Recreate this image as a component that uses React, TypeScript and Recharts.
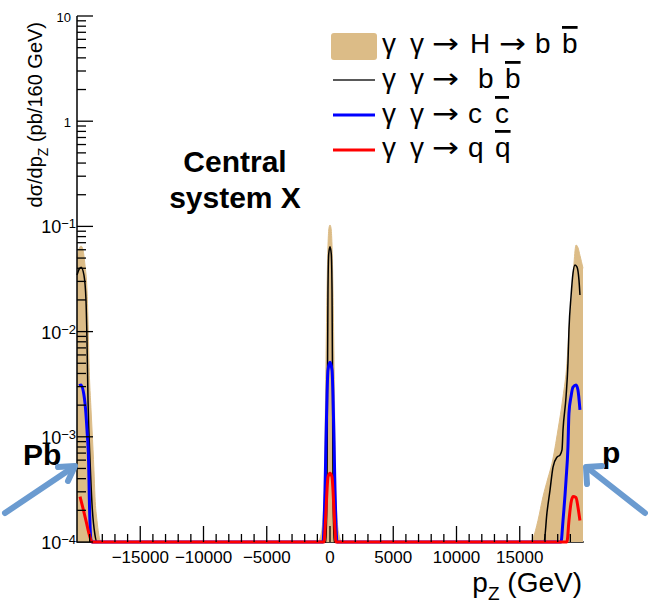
import React from 'react';
import { ComposedChart, Area, Line, XAxis, YAxis } from 'recharts';

// p_Z (GeV) sample points and dsigma/dp_Z (pb/160 GeV).
// Bins below the 1e-4 frame are drawn on the floor, as ROOT does.
const hbbPz = [
  -20000, -19840, -19680, -19530, -19370, -19210, -19130, -19050, -18890, -18810, -18660, -18580, -18420, -18180, -18100,
  -950, -710, -475, -395, -316, -237, -158, -79, 0, 79, 158, 237, 316, 395, 475, 710, 950,
  15810, 16050, 16440, 16840, 17230, 17550, 18020, 18420, 18730, 18890, 19130, 19290, 19450, 19600, 19760, 20000,
];
const hbbVal = [
  0.05, 0.061, 0.065, 0.06, 0.043, 0.0248, 0.0129, 0.005, 0.0018, 0.00116, 0.00048, 0.00027, 0.00016, 0.000104, 0.0001,
  0.0001, 0.000117, 0.00025, 0.00093, 0.0054, 0.0248, 0.0665, 0.0966, 0.103, 0.0966, 0.0665, 0.0248, 0.0054, 0.00093, 0.00025, 0.000117, 0.0001,
  0.0001, 0.000109, 0.00016, 0.00027, 0.000406, 0.00056, 0.00116, 0.0024, 0.005, 0.0104, 0.0213, 0.0449, 0.0665, 0.063, 0.053, 0.04,
];

const bbPz = [
  -20000, -19840, -19680, -19450, -19290, -19210, -19130, -18970, -18810, -18580, -18420,
  -320, -240, -200, -160, -100, 0, 100, 160, 200, 240, 320,
  16920, 17150, 17390, 17630, 17940, 18180, 18340, 18420, 18660, 18810, 18890, 19050, 19210, 19370, 19530, 19680, 19760,
];
const bbVal = [
  0.0345, 0.039, 0.041, 0.0345, 0.02, 0.0083, 0.00224, 0.0006, 0.000225, 0.000117, 0.0001,
  0.0001, 0.0003, 0.003, 0.025, 0.055, 0.064, 0.055, 0.025, 0.003, 0.0003, 0.0001,
  0.0001, 0.000189, 0.00031, 0.000516, 0.00064, 0.00067, 0.00075, 0.00116, 0.0024, 0.005, 0.0104, 0.0213, 0.036, 0.043, 0.041, 0.031, 0.0223,
];

const ccPz = [
  -19840, -19680, -19370, -19210, -19080, -19030, -18890, -18800,
  -600, -553, -474, -395, -316, -237, -158, 0, 158, 237, 316, 395, 474, 553, 600,
  18260, 18420, 18660, 18810, 18890, 19050, 19210, 19450, 19600, 19760,
];
const ccVal = [
  0.00306, 0.0031, 0.0021, 0.00116, 0.00056, 0.00027, 0.000104, 0.0001,
  0.0001, 0.0001, 0.000145, 0.00031, 0.00093, 0.0025, 0.0043, 0.0051, 0.0043, 0.0025, 0.00093, 0.00031, 0.000145, 0.0001, 0.0001,
  0.0001, 0.00016, 0.00039, 0.0008, 0.00168, 0.0024, 0.00297, 0.0031, 0.00279, 0.0018,
];

const qqPz = [
  -19760, -19530, -19290, -19050, -18810, -18200,
  -474, -395, -316, -237, -158, 0, 158, 237, 316, 395, 474,
  18340, 18730, 18890, 19050, 19210, 19450, 19600, 19760,
];
const qqVal = [
  0.00027, 0.00021, 0.00016, 0.00012, 0.0001, 0.0001,
  0.0001, 0.00013, 0.0002, 0.00031, 0.000415, 0.00045, 0.000415, 0.00031, 0.0002, 0.00013, 0.0001,
  0.0001, 0.0001, 0.00016, 0.000235, 0.00027, 0.000265, 0.000215, 0.00016,
];

const xMajorTicks = [-20000, -15000, -10000, -5000, 0, 5000, 10000, 15000, 20000];
const xLabelTicks = [-15000, -10000, -5000, 0, 5000, 10000, 15000];
const yDecades = [1e-4, 1e-3, 1e-2, 1e-1, 1, 10];
const yDecadeBase = ['10', '10', '10', '10', '1', '10'];
const yDecadeExp = ['−4', '−3', '−2', '−1', '', ''];

const TAN = '#dcbc87';
const ARROW = '#6b9bd0';
const FONT = '"Liberation Sans", Arial, Helvetica, sans-serif';

const toRows = (pz: number[], val: number[]) => pz.map((p, i) => ({ pz: p, v: val[i] }));
const hbbData = toRows(hbbPz, hbbVal);
const bbData = toRows(bbPz, bbVal);
const ccData = toRows(ccPz, ccVal);
const qqData = toRows(qqPz, qqVal);

const xTicks: number[] = [];
for (let v = -20000; v <= 20000; v += 1000) xTicks.push(v);
const yTicks: number[] = [];
yDecades.forEach((d, i) => {
  yTicks.push(d);
  if (i < yDecades.length - 1) for (let k = 2; k <= 9; k++) yTicks.push(k * d);
});

const fmtX = (v: number) => (v < 0 ? '−' + Math.abs(v) : String(v));

const XTick = (props: any) => {
  const { x, y, payload } = props;
  const v = payload.value;
  if (v <= -20000 || v >= 20000) return null;
  const major = xMajorTicks.includes(v);
  return (
    <g>
      <line x1={x} y1={y} x2={x} y2={y - (major ? 16 : 8)} stroke="#000" strokeWidth={1.3} />
      {xLabelTicks.includes(v) && (
        <text x={x} y={y + 21} textAnchor="middle" fontSize={17} fontFamily={FONT} fill="#000">
          {fmtX(v)}
        </text>
      )}
    </g>
  );
};

const YTick = (props: any) => {
  const { x, y, payload } = props;
  const v = payload.value;
  const idx = yDecades.findIndex(d => Math.abs(d - v) / d < 1e-6);
  const major = idx >= 0;
  return (
    <g>
      <line x1={x} y1={y} x2={x + (major ? 16 : 9)} y2={y} stroke="#000" strokeWidth={1.3} />
      {major && yDecadeExp[idx] === '' && (
        <text x={x - 6} y={y + 6} textAnchor="end" fontSize={13} fontFamily={FONT} fill="#000">
          {yDecadeBase[idx]}
        </text>
      )}
      {major && yDecadeExp[idx] !== '' && (
        <text x={x - 1} y={y + 7} textAnchor="end" fontSize={18} fontFamily={FONT} fill="#000">
          {yDecadeBase[idx]}
          <tspan dy={-5} fontSize={13}>{yDecadeExp[idx]}</tspan>
        </text>
      )}
    </g>
  );
};

const legendRows = [
  { head: 'H', tail: 'b' },
  { head: '', tail: 'b' },
  { head: '', tail: 'c' },
  { head: '', tail: 'q' },
];

const Arrow = ({ x, y }: { x: number; y: number }) => (
  <text
    transform={`translate(${x},${y}) scale(1.15,1)`}
    fontFamily='"DejaVu Sans", sans-serif'
    fontSize={28}
    fill="#000"
  >
    →
  </text>
);

const Overlay = () => {
  const textStyle = { fontFamily: FONT, fontSize: 28, fill: '#000' } as const;
  const baselines = [53, 88, 123, 157];
  return (
    <svg width={648} height={605} style={{ position: 'absolute', left: 0, top: 0, pointerEvents: 'none' }}>
      {/* legend */}
      <rect x={331} y={33} width={46} height={27} rx={3} fill={TAN} />
      <line x1={333} y1={80} x2={375} y2={80} stroke="#222" strokeWidth={1.5} />
      <line x1={333} y1={115} x2={375} y2={115} stroke="#0000ff" strokeWidth={3} />
      <line x1={333} y1={150} x2={375} y2={150} stroke="#ff0000" strokeWidth={3} />
      {legendRows.map((r, i) => {
        const b = baselines[i];
        const tailX = i === 0 ? 535 : i === 1 ? 478 : 468;
        return (
          <g key={i}>
            <text x={382} y={b} {...textStyle}>γ</text>
            <text x={410} y={b} {...textStyle}>γ</text>
            <Arrow x={432} y={b} />
            {r.head && (
              <>
                <text x={470} y={b} {...textStyle}>{r.head}</text>
                <Arrow x={499} y={b} />
              </>
            )}
            <text x={tailX} y={b} {...textStyle}>{r.tail}</text>
            <text
              x={tailX + 27}
              y={b}
              {...textStyle}
              style={{ textDecoration: 'overline', textDecorationThickness: '3px' } as any}
            >
              {r.tail}
            </text>
          </g>
        );
      })}

      {/* annotations */}
      <text x={235} y={172} textAnchor="middle" fontFamily={FONT} fontWeight="bold" fontSize={30} fill="#000">Central</text>
      <text x={235} y={208} textAnchor="middle" fontFamily={FONT} fontWeight="bold" fontSize={30} fill="#000">system X</text>
      <text x={23} y={465} fontFamily={FONT} fontWeight="bold" fontSize={30} fill="#000">Pb</text>
      <text x={602} y={463} fontFamily={FONT} fontWeight="bold" fontSize={30} fill="#000">p</text>
      <g stroke={ARROW} strokeWidth={6} strokeLinecap="round" strokeLinejoin="round" fill="none">
        <line x1={5} y1={513} x2={72} y2={468} />
        <polyline points="58,467 75,466 68,481" />
        <line x1={645} y1={513} x2={589} y2={469} />
        <polyline points="587,484 586,467 602,466" />
      </g>

      {/* axis titles */}
      <text transform="translate(42,22) rotate(-90)" textAnchor="end" fontFamily={FONT} fontSize={20} fill="#000">
        dσ/dp<tspan dy={6} fontSize={14}>Z</tspan><tspan dy={-6}> (pb/160 GeV)</tspan>
      </text>
      <text x={582} y={592} textAnchor="end" fontFamily={FONT} fontSize={28} fill="#000">
        p<tspan dy={8} fontSize={19}>Z</tspan><tspan dy={-8}> (GeV)</tspan>
      </text>
    </svg>
  );
};

// bottom frame edge sits under the curves, so the floor lines cover it as in ROOT
const Underlay = () => (
  <svg width={648} height={605} style={{ position: 'absolute', left: 0, top: 0 }}>
    <line x1={76.25} y1={542} x2={583.75} y2={542} stroke="#000" strokeWidth={1.5} />
  </svg>
);

export default function App() {
  return (
    <div style={{ position: 'absolute', left: 0, top: 0, width: 648, height: 605, background: '#fff' }}>
      <Underlay />
      <div style={{ position: 'absolute', left: 0, top: 0 }}>
        <ComposedChart width={648} height={605} margin={{ top: 16, right: 65, bottom: 13, left: 7 }}>
          <XAxis
            dataKey="pz"
            type="number"
            domain={[-20000, 20000]}
            ticks={xTicks}
            interval={0}
            tick={<XTick />}
            tickLine={false}
            tickSize={0}
            tickMargin={0}
            height={50}
            axisLine={false}
          />
          <XAxis
            xAxisId="top"
            orientation="top"
            type="number"
            domain={[-20000, 20000]}
            height={0}
            tick={false}
            tickLine={false}
            axisLine={{ stroke: '#000', strokeWidth: 1.5 }}
          />
          <YAxis
            type="number"
            scale="log"
            domain={[1e-4, 10]}
            ticks={yTicks}
            interval={0}
            tick={<YTick />}
            tickLine={false}
            tickSize={0}
            tickMargin={0}
            width={70}
            axisLine={{ stroke: '#000', strokeWidth: 1.5 }}
          />
          <YAxis
            yAxisId="right"
            orientation="right"
            type="number"
            scale="log"
            domain={[1e-4, 10]}
            width={0}
            tick={false}
            tickLine={false}
            axisLine={{ stroke: '#000', strokeWidth: 1.5 }}
          />
          <Area data={hbbData} dataKey="v" type="monotone" fill={TAN} fillOpacity={1} stroke={TAN} strokeWidth={1} isAnimationActive={false} />
          <Line data={bbData} dataKey="v" type="monotone" stroke="#000" strokeWidth={1.5} dot={false} isAnimationActive={false} />
          <Line data={ccData} dataKey="v" type="monotone" stroke="#0000ff" strokeWidth={3} dot={false} isAnimationActive={false} />
          <Line data={qqData} dataKey="v" type="monotone" stroke="#ff0000" strokeWidth={3} dot={false} isAnimationActive={false} />
        </ComposedChart>
      </div>
      <Overlay />
    </div>
  );
}
